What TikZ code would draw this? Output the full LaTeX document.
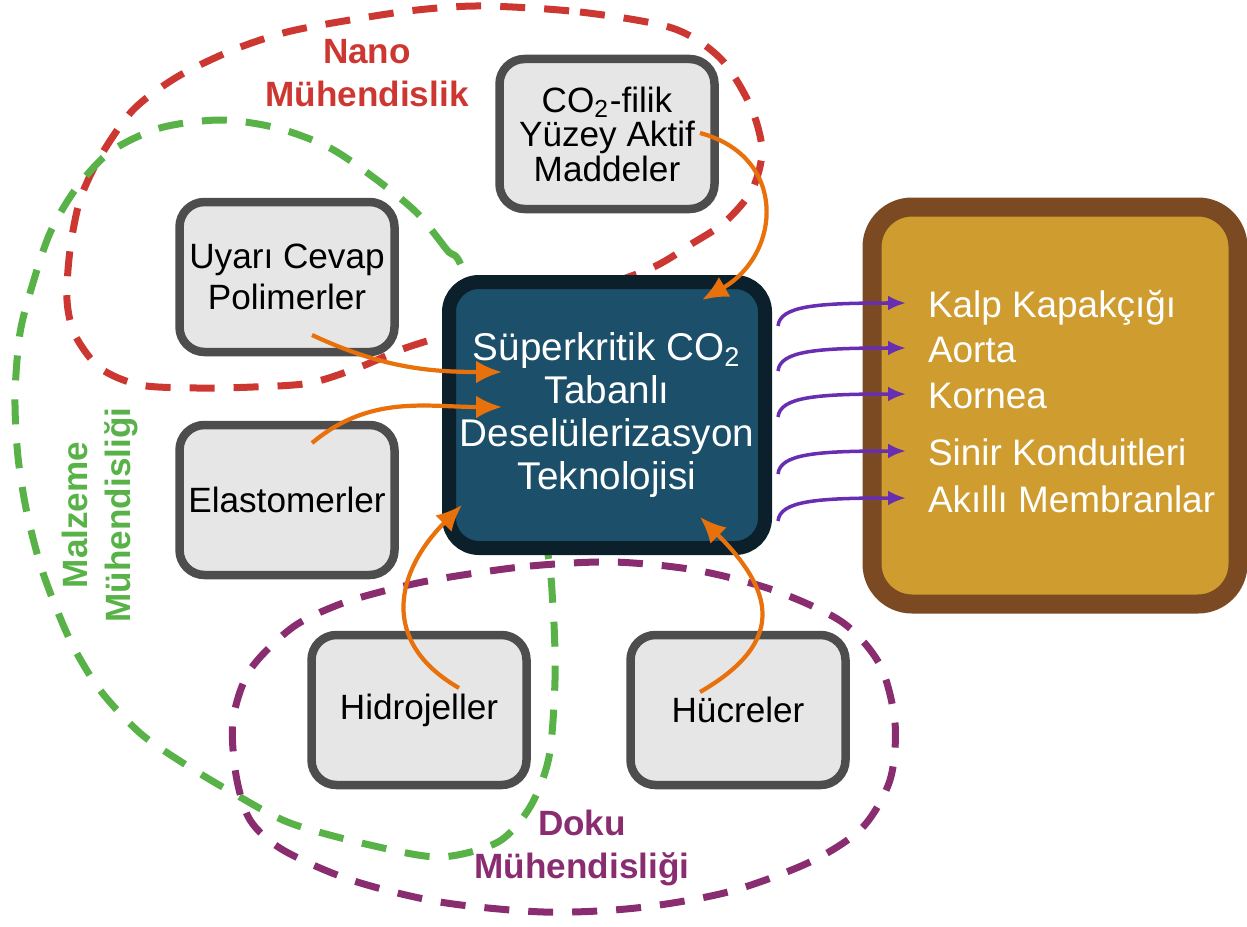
\documentclass[tikz,border=0pt]{standalone}
\usepackage{fontspec}
\setmainfont{Liberation Sans}
\usetikzlibrary{arrows.meta,calc}

\definecolor{techfill}{RGB}{27,79,106}
\definecolor{techline}{RGB}{12,32,44}
\definecolor{boxfill}{RGB}{230,230,230}
\definecolor{boxline}{RGB}{77,77,77}
\definecolor{goldfill}{RGB}{207,156,48}
\definecolor{goldline}{RGB}{124,74,34}
\definecolor{orng}{RGB}{232,113,12}
\definecolor{violet}{RGB}{104,46,178}
\definecolor{nanored}{RGB}{205,55,50}
\definecolor{malzgreen}{RGB}{88,178,72}
\definecolor{dokupurple}{RGB}{138,45,112}

\begin{document}
\begin{tikzpicture}[x=0.1mm,y=0.1mm,
	box/.style={draw=boxline, fill=boxfill, line width=0.85mm, rounded corners=2.5mm,
		minimum width=21.5mm, minimum height=15mm, inner sep=1pt, align=center,
		font=\fontsize{10}{11.5}\selectfont},
	techbox/.style={draw=techline, fill=techfill, line width=1.4mm, rounded corners=3mm,
		minimum width=31.6mm, minimum height=26.6mm, inner sep=0pt, align=center,
		text=white, font=\fontsize{11}{12.2}\selectfont},
	goldbox/.style={draw=goldline, fill=goldfill, line width=1.9mm, rounded corners=4mm,
		minimum width=36.6mm, minimum height=39.7mm},
	item/.style={anchor=base west, text=white, inner sep=0pt, outer xsep=2.2mm,
		text height=2.8mm, text depth=0pt, font=\fontsize{10.5}{12}\selectfont},
	lbl/.style={align=center, font=\fontsize{10}{12}\selectfont\bfseries},
	region/.style={line width=0.7mm, dash pattern=on 2.5mm off 1.9mm},
	oarrow/.style={draw=orng, line width=1.2pt, -{Latex[length=2.6mm,width=2.3mm]}},
	parrow/.style={draw=violet, line width=1pt, -{Latex[length=1.8mm,width=1.5mm]}}]
	\useasboundingbox (0,0) rectangle (1247,-926);

	% dashed fields
	\draw[region, nanored] plot[smooth cycle] coordinates {(483,-6) (580,-12) (672,-28) (720,-58) (750,-105) (762,-150) (752,-190) (725,-222) (693,-243) (647,-270) (545,-305) (440,-337) (400,-350) (360,-367) (310,-383) (253,-387) (197,-388) (140,-385) (100,-368) (75,-335) (67,-300) (70,-250) (80,-200) (100,-157) (133,-110) (177,-77) (233,-50) (287,-32) (350,-20) (417,-10)};
	\draw[region, malzgreen] plot[smooth cycle] coordinates {(463,-270) (447,-250) (417,-213) (377,-180) (330,-148) (277,-128) (220,-120) (160,-128) (110,-152) (75,-190) (50,-233) (33,-283) (20,-333) (15,-397) (18,-457) (27,-513) (43,-573) (70,-640) (100,-690) (140,-733) (183,-763) (233,-793) (290,-823) (370,-845) (440,-857) (498,-842) (530,-807) (549,-757) (555,-680) (553,-607) (545,-540) (505,-400)};
	\draw[region, dokupurple] plot[smooth cycle] coordinates {(450,-577) (530,-566) (613,-562) (695,-570) (773,-590) (842,-622) (880,-665) (895,-723) (890,-780) (862,-828) (810,-862) (728,-892) (636,-908) (544,-912) (440,-902) (351,-880) (283,-850) (250,-820) (236,-775) (233,-720) (250,-670) (293,-627) (343,-603) (400,-587)};

	\node[lbl, text=nanored] (nano) at (367,-73) {Nano\\Mühendislik};
	\node[lbl, text=malzgreen, rotate=90] (malz) at (100,-515) {Malzeme\\Mühendisliği};
	\node[lbl, text=dokupurple] (doku) at (582,-848) {Doku\\Mühendisliği};

	\node[box, font=\fontsize{10}{9.8}\selectfont] (surf) at (607,-134) {CO\textsubscript{2}-filik\\Yüzey Aktif\\Maddeler};
	\node[box] (uyari) at (287,-277) {Uyarı Cevap\\Polimerler};
	\node[box] (elast) at (287,-500) {Elastomerler};
	\node[box] (hidro) at (419,-710) {Hidrojeller};
	\node[box] (hucre) at (738,-710) {Hücreler};

	\node[techbox] (tech) at (607,-415) {Süperkritik CO\textsubscript{2}\\Tabanlı\\Deselülerizasyon\\Teknolojisi};

	\node[goldbox] (apps) at (1055,-405.5) {};
	\node[item] (kalp) at (906,-317) {Kalp Kapakçığı};
	\node[item] (aorta) at (906,-362) {Aorta};
	\node[item] (kornea) at (906,-408) {Kornea};
	\node[item] (sinir) at (906,-465) {Sinir Konduitleri};
	\node[item] (akilli) at (906,-512) {Akıllı Membranlar};

	% inputs
	\draw[oarrow] ($(surf.center)+(93,1)$) to[out=-15,in=30,looseness=1.4] ($(tech.center)+(95,115)$);
	\draw[oarrow] ($(uyari.center)+(25,-58)$) to[out=-25,in=180] ($(tech.center)+(-105,43)$);
	\draw[oarrow] ($(elast.center)+(25,57)$) to[out=40,in=180] ($(tech.center)+(-105,8)$);
	\draw[oarrow] ($(hidro.center)+(40,22)$) to[out=150,in=225,looseness=1.3] ($(tech.center)+(-145,-90)$);
	\draw[oarrow] ($(hucre.center)+(-38,18)$) to[out=30,in=-45,looseness=1.5] ($(tech.center)+(93,-102)$);

	% outputs
	\draw[parrow] ($(tech.east |- kalp.west)+(6,-23)$) .. controls +(2,20) and +(-90,0) .. (kalp.west);
	\draw[parrow] ($(tech.east |- aorta.west)+(6,-23)$) .. controls +(2,20) and +(-90,0) .. (aorta.west);
	\draw[parrow] ($(tech.east |- kornea.west)+(6,-23)$) .. controls +(2,20) and +(-90,0) .. (kornea.west);
	\draw[parrow] ($(tech.east |- sinir.west)+(6,-23)$) .. controls +(2,20) and +(-90,0) .. (sinir.west);
	\draw[parrow] ($(tech.east |- akilli.west)+(6,-23)$) .. controls +(2,20) and +(-90,0) .. (akilli.west);
\end{tikzpicture}
\end{document}
